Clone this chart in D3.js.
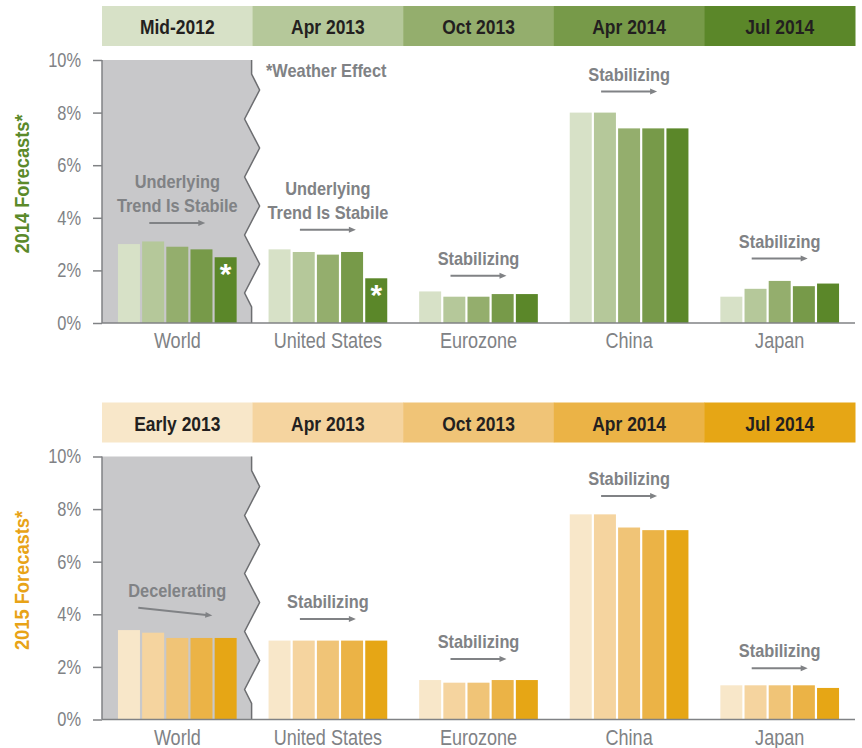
<!DOCTYPE html>
<html lang="en">
<head>
  <meta charset="UTF-8">
  <title>2014 and 2015 GDP Forecasts</title>
  <style>
    body, html { margin: 0; padding: 0; background: #fff; }
    svg text { font-family: "Liberation Sans", Arial, sans-serif; }
  </style>
</head>
<body>
  <svg id="svg" width="862" height="748"></svg>

  <script src="https://cdn.jsdelivr.net/npm/d3@7"></script>
  <script>
    const categories = ['World', 'United States', 'Eurozone', 'China', 'Japan']
    const vintages2014 = ['Mid-2012', 'Apr 2013', 'Oct 2013', 'Apr 2014', 'Jul 2014']
    const vintages2015 = ['Early 2013', 'Apr 2013', 'Oct 2013', 'Apr 2014', 'Jul 2014']

    // one row per category, one value per forecast vintage
    const forecast2014 = [
      [3.0, 3.1, 2.9, 2.8, 2.5],
      [2.8, 2.7, 2.6, 2.7, 1.7],
      [1.2, 1.0, 1.0, 1.1, 1.1],
      [8.0, 8.0, 7.4, 7.4, 7.4],
      [1.0, 1.3, 1.6, 1.4, 1.5]
    ]
    const forecast2015 = [
      [3.4, 3.3, 3.1, 3.1, 3.1],
      [3.0, 3.0, 3.0, 3.0, 3.0],
      [1.5, 1.4, 1.4, 1.5, 1.5],
      [7.8, 7.8, 7.3, 7.2, 7.2],
      [1.3, 1.3, 1.3, 1.3, 1.2]
    ]
    const yTicks = [0, 2, 4, 6, 8, 10]

    const greens = ['#d7e1c7', '#b5c89a', '#94ae6d', '#779a49', '#5b8729']
    const golds = ['#f8e7c9', '#f5d49f', '#f0c477', '#ebb346', '#e6a615']

    // annotation text, arrow level in % (from, to)
    const notes2014 = [
      { cat: 'World', lines: ['Underlying', 'Trend Is Stabile'], from: 3.8, to: 3.8 },
      { cat: 'United States', lines: ['Underlying', 'Trend Is Stabile'], from: 3.55, to: 3.55 },
      { cat: 'Eurozone', lines: ['Stabilizing'], from: 1.8, to: 1.8 },
      { cat: 'China', lines: ['Stabilizing'], from: 8.8, to: 8.8 },
      { cat: 'Japan', lines: ['Stabilizing'], from: 2.45, to: 2.45 }
    ]
    const notes2015 = [
      { cat: 'World', lines: ['Decelerating'], from: 4.25, to: 3.95 },
      { cat: 'United States', lines: ['Stabilizing'], from: 3.82, to: 3.82 },
      { cat: 'Eurozone', lines: ['Stabilizing'], from: 2.3, to: 2.3 },
      { cat: 'China', lines: ['Stabilizing'], from: 8.5, to: 8.5 },
      { cat: 'Japan', lines: ['Stabilizing'], from: 1.95, to: 1.95 }
    ]
    // bars flagged with the weather-effect asterisk: [category, vintage]
    const weatherFlags2014 = [['World', 4], ['United States', 4]]

    const svg = d3.select('#svg')
    const left = 102
    const right = 855
    const plotH = 263
    const gray = '#808285'

    // no condensed face installed, so squeeze glyphs horizontally
    function condense(sel, k) {
      sel.each(function () {
        const w = this.getComputedTextLength()
        d3.select(this).attr('textLength', w * k).attr('lengthAdjust', 'spacingAndGlyphs')
      })
    }

    const x0 = d3.scaleBand().domain(categories).range([left, right])
    const x1 = d3.scaleBand().domain(d3.range(5)).range([0, x0.bandwidth()])
      .paddingInner(0.09).paddingOuter(0.66)

    function drawPanel(top, opts) {
      const y = d3.scaleLinear().domain([0, 10]).range([top + plotH, top])
      const g = svg.append('g')

      // header band with forecast vintages
      const hx = d3.scaleBand().domain(d3.range(5)).range([left, right])
      const header = g.append('g')
      header.selectAll('rect')
        .data(opts.vintages)
        .enter()
        .append('rect')
        .attr('x', (d, i) => hx(i))
        .attr('y', top - 54)
        .attr('width', hx.bandwidth() + 0.5)
        .attr('height', 40)
        .attr('fill', (d, i) => opts.colors[i])
      header.selectAll('text')
        .data(opts.vintages)
        .enter()
        .append('text')
        .text(d => d)
        .attr('x', (d, i) => hx(i) + hx.bandwidth() / 2)
        .attr('y', top - 26)
        .attr('text-anchor', 'middle')
        .attr('font-size', 21)
        .attr('font-weight', 'bold')
        .attr('fill', '#231f20')
        .call(condense, 0.83)

      // gray shaded region behind World with zigzag edge
      const ex = x0('United States') - 1
      const yTop = y(10), yBot = y(0)
      const zig = [[left, yTop], [ex, yTop], [ex, yTop + 14]]
      const stops = [30, 59, 88, 117, 146, 175, 204, 233]
      stops.forEach((s, i) => zig.push([i % 2 === 0 ? ex + 8 : ex - 7, yTop + s]))
      zig.push([ex, yTop + 247], [ex, yBot], [left, yBot])
      g.append('path')
        .attr('d', d3.line()(zig) + 'Z')
        .attr('fill', '#c8c8ca')
      g.append('path')
        .attr('d', d3.line()(zig.slice(1, zig.length - 1)))
        .attr('fill', 'none')
        .attr('stroke', '#6d6e71')
        .attr('stroke-width', 1.5)

      // bars
      const rows = categories.map((c, i) => ({ cat: c, values: opts.values[i] }))
      const groups = g.selectAll('g.cat')
        .data(rows)
        .enter()
        .append('g')
        .attr('class', 'cat')
        .attr('transform', d => `translate(${x0(d.cat)},0)`)
      groups.selectAll('rect')
        .data(d => d.values)
        .enter()
        .append('rect')
        .attr('x', (d, i) => x1(i))
        .attr('y', d => y(d))
        .attr('width', x1.bandwidth())
        .attr('height', d => y(0) - y(d))
        .attr('fill', (d, i) => opts.colors[i])

      // asterisks inside flagged bars
      g.selectAll('text.flag')
        .data(opts.flags || [])
        .enter()
        .append('text')
        .attr('class', 'flag')
        .text('*')
        .attr('x', d => x0(d[0]) + x1(d[1]) + x1.bandwidth() / 2)
        .attr('y', d => y(opts.values[categories.indexOf(d[0])][d[1]]) + 27)
        .attr('text-anchor', 'middle')
        .attr('font-size', 30)
        .attr('font-weight', 'bold')
        .attr('fill', '#fff')

      // y axis
      const axis = g.append('g')
        .attr('transform', `translate(${left},0)`)
        .call(d3.axisLeft(y).tickValues(yTicks).tickFormat(d => d + '%')
          .tickSize(9).tickPadding(12))
      axis.select('.domain').attr('stroke', gray).attr('stroke-width', 1.5)
        .attr('d', `M0,${yTop}V${yBot}`)
      axis.selectAll('.tick line').attr('stroke', gray).attr('stroke-width', 1.5)
      axis.selectAll('.tick text')
        .attr('font-size', 20)
        .attr('fill', gray)
        .attr('font-family', '"Liberation Sans", Arial, sans-serif')
        .call(condense, 0.82)

      // baseline
      g.append('line')
        .attr('x1', left).attr('x2', right)
        .attr('y1', yBot).attr('y2', yBot)
        .attr('stroke', gray).attr('stroke-width', 1.5)

      // category labels
      g.selectAll('text.cat')
        .data(categories)
        .enter()
        .append('text')
        .attr('class', 'cat')
        .text(d => d)
        .attr('x', d => x0(d) + x0.bandwidth() / 2)
        .attr('y', yBot + 25)
        .attr('text-anchor', 'middle')
        .attr('font-size', 22)
        .attr('fill', gray)
        .call(condense, 0.82)

      // y title
      g.append('text')
        .text(opts.title)
        .attr('transform', `translate(29,${top + 124}) rotate(-90)`)
        .attr('text-anchor', 'middle')
        .attr('font-size', 21)
        .attr('font-weight', 'bold')
        .attr('fill', opts.titleColor)
        .call(condense, 0.87)

      // annotations
      const notes = g.selectAll('g.note')
        .data(opts.notes)
        .enter()
        .append('g')
        .attr('class', 'note')
      notes.each(function (d) {
        const cx = x0(d.cat) + x0.bandwidth() / 2
        const sel = d3.select(this)
        const wide = d.from !== d.to
        const ax1 = cx - (wide ? 39 : 28)
        const ax2 = cx + (wide ? 35 : 28)
        const ay1 = y(d.from), ay2 = y(d.to)
        const n = d.lines.length
        d.lines.forEach((line, i) => {
          sel.append('text')
            .text(line)
            .attr('x', cx)
            .attr('y', Math.min(ay1, ay2) - 11 - (n - 1 - i) * 24)
            .attr('text-anchor', 'middle')
            .attr('font-size', 19)
            .attr('font-weight', 'bold')
            .attr('fill', gray)
            .call(condense, 0.86)
        })
        const ang = Math.atan2(ay2 - ay1, ax2 - ax1)
        sel.append('line')
          .attr('x1', ax1).attr('y1', ay1)
          .attr('x2', ax2 - 6 * Math.cos(ang)).attr('y2', ay2 - 6 * Math.sin(ang))
          .attr('stroke', gray).attr('stroke-width', 2)
        sel.append('path')
          .attr('d', 'M0,-3L7,0L0,3Z')
          .attr('transform', `translate(${ax2 - 7 * Math.cos(ang)},${ay2 - 7 * Math.sin(ang)}) rotate(${ang * 180 / Math.PI})`)
          .attr('fill', gray)
      })

      return y
    }

    drawPanel(60, {
      vintages: vintages2014,
      values: forecast2014,
      colors: greens,
      notes: notes2014,
      flags: weatherFlags2014,
      title: '2014 Forecasts*',
      titleColor: '#5b8a2a'
    })

    svg.append('text')
      .text('*Weather Effect')
      .attr('x', 266)
      .attr('y', 77)
      .attr('font-size', 19)
      .attr('font-weight', 'bold')
      .attr('fill', gray)
      .call(condense, 0.86)

    drawPanel(456.5, {
      vintages: vintages2015,
      values: forecast2015,
      colors: golds,
      notes: notes2015,
      title: '2015 Forecasts*',
      titleColor: '#e8a317'
    })
  </script>
</body>
</html>
